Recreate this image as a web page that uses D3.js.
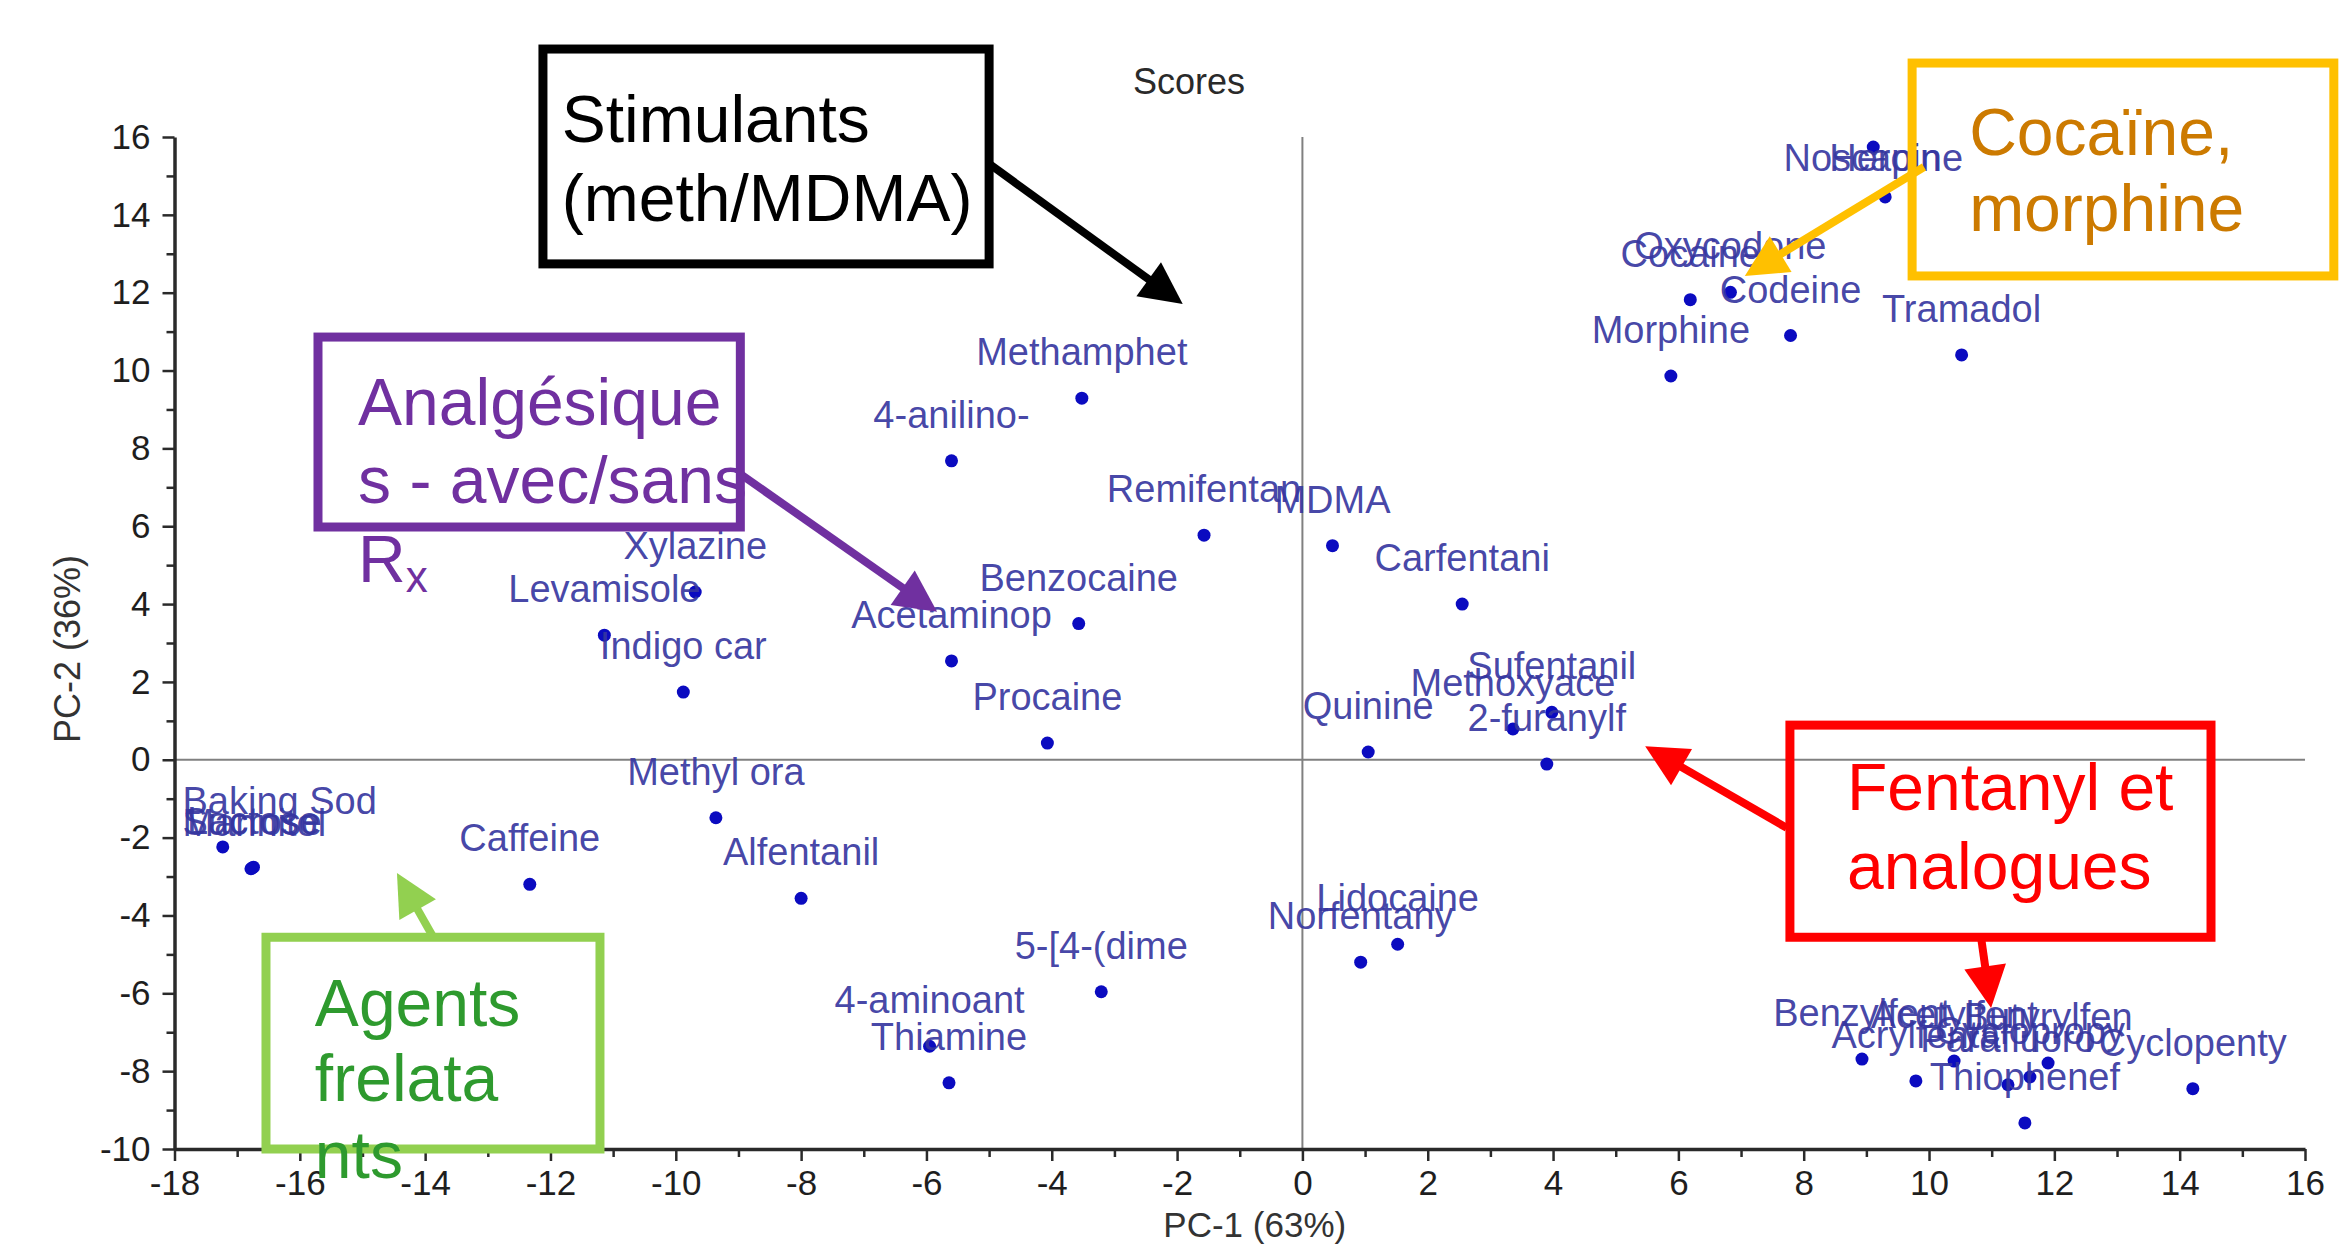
<!DOCTYPE html>
<html>
<head>
<meta charset="utf-8">
<script src="https://cdn.jsdelivr.net/npm/d3@7"></script>
<style>
  html, body { margin: 0; padding: 0; background: #fff; }
  svg { display: block; }
</style>
</head>
<body>
<svg id="chart" width="2339" height="1245"></svg>
<script>
// ---------------- DATA ----------------
const names = [
  "Noscapine", "Heroin", "Cocaine", "Oxycodone", "Codeine", "Morphine", "Tramadol",
  "Methamphet", "4-anilino-", "Remifentan", "MDMA", "Carfentani",
  "Xylazine", "Levamisole", "Indigo car", "Benzocaine", "Acetaminop", "Procaine",
  "Quinine", "Sufentanil", "Methoxyace", "2-furanylf",
  "Methyl ora", "Caffeine", "Alfentanil", "5-[4-(dime", "4-aminoant", "Thiamine",
  "Norfentany", "Lidocaine",
  "Baking Sod", "Sucrose", "Lactose", "Mannitol",
  "Benzylfent", "Acetylfent", "Butyrylfen", "Acrylfenta", "Cyclopropy", "Parafluoro",
  "Cyclopenty", "Thiophenef"
];
const pc1 = [
  9.11, 9.30, 6.19, 6.83, 7.79, 5.88, 10.52,
  -3.52, -5.60, -1.57, 0.48, 2.55,
  -9.69, -11.14, -9.88, -3.57, -5.60, -4.07,
  1.05, 3.98, 3.36, 3.90,
  -9.36, -12.33, -8.00, -3.21, -5.95, -5.64,
  0.93, 1.52,
  -17.23, -16.76, -16.74, -16.78,
  8.93, 10.40, 11.90, 9.79, 11.61, 11.26,
  14.21, 11.53
];
const pc2 = [
  15.74, 14.46, 11.82, 12.01, 10.90, 9.86, 10.40,
  9.29, 7.68, 5.77, 5.50, 4.00,
  4.31, 3.20, 1.74, 3.50, 2.54, 0.43,
  0.20, 1.22, 0.79, -0.11,
  -1.49, -3.20, -3.56, -5.96, -7.36, -8.30,
  -5.20, -4.74,
  -2.24, -2.78, -2.76, -2.80,
  -7.69, -7.74, -7.79, -8.25, -8.15, -8.35,
  -8.45, -9.33
];
const xTickValues = [-18, -16, -14, -12, -10, -8, -6, -4, -2, 0, 2, 4, 6, 8, 10, 12, 14, 16];
const yTickValues = [-10, -8, -6, -4, -2, 0, 2, 4, 6, 8, 10, 12, 14, 16];
const chartTitle = "Scores";
const xTitle = "PC-1 (63%)";
const yTitle = "PC-2 (36%)";

// Annotation callouts (in data units of the score plot)
const callouts = [
  { lines: ["Stimulants", "(meth/MDMA)"], color: "#000000", textColor: "#000000",
    box: [-12.12, 18.26, -5.0, 12.74], textX: -11.82, baselines: [15.87, 13.85],
    arrows: [[-5.0, 15.31, -1.91, 11.71]] },
  { lines: ["Cocaïne,", "morphine"], color: "#FFC000", textColor: "#CC7A00",
    box: [9.73, 17.9, 16.46, 12.43], textX: 10.64, baselines: [15.54, 13.59],
    arrows: [[9.92, 15.23, 7.06, 12.43]] },
  { lines: ["Analgésique", "s - avec/sans", "R"], sub: "x", color: "#7030A0", textColor: "#7030A0",
    box: [-15.71, 10.86, -8.97, 5.98], textX: -15.07, baselines: [8.6, 6.6, 4.57],
    arrows: [[-8.97, 7.34, -5.83, 3.8]] },
  { lines: ["Agents", "frelata", "nts"], color: "#92D050", textColor: "#2E9A2E",
    box: [-16.54, -4.56, -11.21, -10.0], textX: -15.76, baselines: [-6.84, -8.77, -10.75],
    arrows: [[-13.87, -4.56, -14.45, -2.91]] },
  { lines: ["Fentanyl et", "analogues"], color: "#FF0000", textColor: "#FF0000",
    box: [7.78, 0.89, 14.5, -4.56], textX: 8.69, baselines: [-1.29, -3.32],
    arrows: [[7.73, -1.75, 5.47, 0.35], [10.83, -4.56, 10.99, -6.38]] }
];

// ---------------- LAYOUT ----------------
const svg = d3.select("#chart");
const W = 2339, H = 1245;
const plot = { left: 174.5, right: 2305, top: 137, bottom: 1149 };

const x = d3.scaleLinear().domain([-18, 16]).range([plot.left, plot.right]);
const y = d3.scaleLinear().domain([-10, 16]).range([plot.bottom, plot.top]);

svg.append("rect").attr("width", W).attr("height", H).attr("fill", "#fff");

const FONT = "'Liberation Sans', Arial, Helvetica, sans-serif";

// zero lines
svg.append("line")
  .attr("x1", x(0)).attr("x2", x(0)).attr("y1", y(16)).attr("y2", y(-10))
  .attr("stroke", "#808080").attr("stroke-width", 2);
svg.append("line")
  .attr("x1", x(-18)).attr("x2", x(16)).attr("y1", y(0)).attr("y2", y(0))
  .attr("stroke", "#808080").attr("stroke-width", 2);

// minor ticks
const xMinor = d3.range(-18, 17, 1).filter(v => !xTickValues.includes(v));
const yMinor = d3.range(-10, 17, 1).filter(v => !yTickValues.includes(v));

function styleAxis(g) {
  g.select(".domain").attr("stroke", "#2a2a2a").attr("stroke-width", 3.5);
  g.selectAll(".tick line").attr("stroke", "#2a2a2a").attr("stroke-width", 2.5);
  g.selectAll(".tick text").attr("fill", "#1e1e1e").attr("font-size", 35).attr("font-family", FONT);
}

const xAxisG = svg.append("g").attr("transform", `translate(0,${plot.bottom})`)
  .call(d3.axisBottom(x).tickValues(xTickValues).tickSize(12).tickSizeOuter(0).tickPadding(9)
    .tickFormat(d => String(d)));
styleAxis(xAxisG);
const xMinorG = svg.append("g").attr("transform", `translate(0,${plot.bottom})`)
  .call(d3.axisBottom(x).tickValues(xMinor).tickSize(8).tickSizeOuter(0).tickFormat(""));
xMinorG.select(".domain").remove();
xMinorG.selectAll(".tick line").attr("stroke", "#2a2a2a").attr("stroke-width", 2.5);

const yAxisG = svg.append("g").attr("transform", `translate(${plot.left},0)`)
  .call(d3.axisLeft(y).tickValues(yTickValues).tickSize(12).tickSizeOuter(0).tickPadding(12)
    .tickFormat(d => String(d)));
styleAxis(yAxisG);
const yMinorG = svg.append("g").attr("transform", `translate(${plot.left},0)`)
  .call(d3.axisLeft(y).tickValues(yMinor).tickSize(8).tickSizeOuter(0).tickFormat(""));
yMinorG.select(".domain").remove();
yMinorG.selectAll(".tick line").attr("stroke", "#2a2a2a").attr("stroke-width", 2.5);

// titles
svg.append("text").attr("x", 1189).attr("y", 94).attr("text-anchor", "middle")
  .attr("font-family", FONT).attr("font-size", 36).attr("fill", "#2a2a2a").text(chartTitle);
svg.append("text").attr("x", (plot.left + plot.right) / 2 + 15).attr("y", 1237).attr("text-anchor", "middle")
  .attr("font-family", FONT).attr("font-size", 35).attr("fill", "#333").text(xTitle);
svg.append("text").attr("transform", `translate(80,${(plot.top + plot.bottom) / 2 + 6}) rotate(-90)`)
  .attr("text-anchor", "middle")
  .attr("font-family", FONT).attr("font-size", 36).attr("fill", "#333").text(yTitle);

// points
const pts = names.map((n, i) => ({ name: n, px: pc1[i], py: pc2[i] }));

svg.append("g").selectAll("circle").data(pts).join("circle")
  .attr("cx", d => x(d.px)).attr("cy", d => y(d.py)).attr("r", 6.5)
  .attr("fill", "#0B0BC0");

const lblG = svg.append("g");
const labels = lblG.selectAll("text").data(pts).join("text")
  .attr("font-family", FONT).attr("font-size", 38).attr("fill", "#3636A0").attr("fill-opacity", 0.92)
  .attr("text-anchor", "start")
  .text(d => d.name);
labels.each(function(d) {
  const w = this.getComputedTextLength();
  let lx = x(d.px) - w / 2;
  if (lx < plot.left + 8) lx = plot.left + 8;
  if (lx + w > plot.right) lx = plot.right - w;
  let ly = y(d.py) - 33;
  if (ly < plot.top + 34) ly = plot.top + 34;
  d3.select(this).attr("x", lx).attr("y", ly);
});

// callouts
function arrow(g, x1, y1, x2, y2, color, width) {
  const dx = x2 - x1, dy = y2 - y1, len = Math.hypot(dx, dy);
  const ux = dx / len, uy = dy / len;
  const headL = 42, headW = 21;
  const bx = x2 - ux * headL, by = y2 - uy * headL;
  g.append("line").attr("x1", x1).attr("y1", y1).attr("x2", bx + ux * 2).attr("y2", by + uy * 2)
    .attr("stroke", color).attr("stroke-width", width);
  g.append("polygon")
    .attr("points", [[x2, y2], [bx - uy * headW, by + ux * headW], [bx + uy * headW, by - ux * headW]].map(p => p.join(",")).join(" "))
    .attr("fill", color);
}

const cg = svg.append("g");
callouts.forEach(c => {
  const [bx1, by1, bx2, by2] = c.box;
  cg.append("rect")
    .attr("x", x(bx1)).attr("y", y(by1))
    .attr("width", x(bx2) - x(bx1)).attr("height", y(by2) - y(by1))
    .attr("fill", "none").attr("stroke", c.color).attr("stroke-width", 9);
  c.lines.forEach((ln, i) => {
    const t = cg.append("text").attr("x", x(c.textX)).attr("y", y(c.baselines[i]))
      .attr("font-family", FONT).attr("font-size", 66).attr("fill", c.textColor).text(ln);
    if (c.sub && i === c.lines.length - 1) {
      t.append("tspan").attr("font-size", 44).attr("dy", 10).text(c.sub);
    }
  });
  c.arrows.forEach(a => arrow(cg, x(a[0]), y(a[1]), x(a[2]), y(a[3]), c.color, 8));
});
</script>
</body>
</html>
